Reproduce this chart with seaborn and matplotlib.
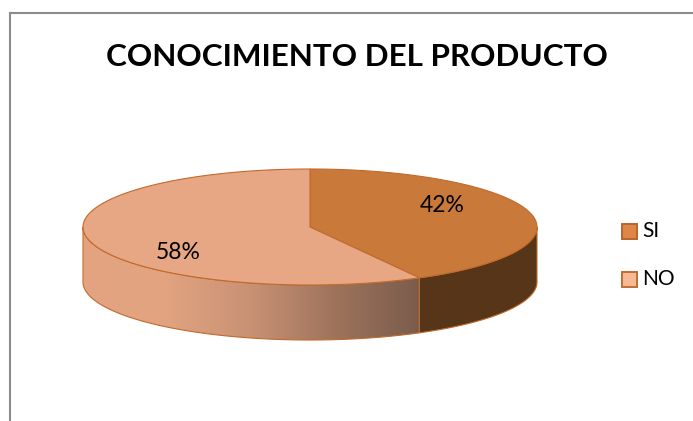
import numpy as np
import matplotlib
matplotlib.use("Agg")
import matplotlib.pyplot as plt
from matplotlib.patches import Polygon, Rectangle
import seaborn as sns

# ---- data -------------------------------------------------------------
categories = ["SI", "NO"]
shares = [42, 58]
value_labels = ["42%", "58%"]
title = "CONOCIMIENTO DEL PRODUCTO"

# ---- styling ----------------------------------------------------------
sns.set_theme(style="white")
plt.rcParams["font.family"] = ["Lato", "DejaVu Sans"]

top_colors = ["#C97939", "#E7A784"]
legend_colors = ["#DE8646", "#F7B894"]
legend_edges = ["#B5652C", "#C06C32"]
edge_color = "#C26A2C"
si_side = "#573519"
no_side_cmap = sns.blend_palette(["#E4A481", "#E1A380", "#C89174", "#9E735C", "#7A5C4C"],
                                 as_cmap=True)

W, H = 693, 421
fig = plt.figure(figsize=(W / 100, H / 100), dpi=100)
ax = fig.add_axes([0, 0, 1, 1])
ax.set_xlim(0, W)
ax.set_ylim(H, 0)
ax.axis("off")

# pie geometry (pixels): centre of top face, radii, thickness
cx, cy, rx, ry, depth = 310, 227, 227, 58, 55


def arc(t0, t1, dy=0.0, n=240):
    t = np.radians(np.linspace(t0, t1, n))
    return np.column_stack([cx + rx * np.cos(t), cy - ry * np.sin(t) + dy])


# slice angle ranges: start at 12 o'clock, run clockwise
fractions = np.array(shares, dtype=float) / np.sum(shares)
starts = 90 - 360 * np.concatenate([[0], np.cumsum(fractions)[:-1]])
ends = starts - 360 * fractions


def front_part(a_start, a_end):
    """Portion of a slice's outer rim that faces the viewer (angles -180..0)."""
    lo_s, hi_s = min(a_start, a_end), max(a_start, a_end)
    for k in (-720, -360, 0, 360):
        lo, hi = max(lo_s + k, -180), min(hi_s + k, 0)
        if hi > lo:
            return lo, hi
    return None


# ---- side walls -------------------------------------------------------
for i, cat in enumerate(categories):
    part = front_part(starts[i], ends[i])
    if part is None:
        continue
    lo, hi = part
    pts = np.vstack([arc(lo, hi), arc(hi, lo, dy=depth)])
    if cat == "SI":
        ax.add_patch(Polygon(pts, closed=True, facecolor=si_side,
                             edgecolor=edge_color, lw=0.8, zorder=2))
    else:
        poly = Polygon(pts, closed=True, facecolor="none",
                       edgecolor=edge_color, lw=0.8, zorder=3)
        ax.add_patch(poly)
        x0, x1 = pts[:, 0].min(), pts[:, 0].max()
        y0, y1 = pts[:, 1].min(), pts[:, 1].max()
        grad = np.linspace(0, 1, 256)[None, :]
        im = ax.imshow(grad, cmap=no_side_cmap, extent=[x0, x1, y1, y0],
                       aspect="auto", zorder=2, interpolation="bilinear")
        im.set_clip_path(poly)

# ---- top face ---------------------------------------------------------
for i, cat in enumerate(categories):
    pts = np.vstack([[cx, cy], arc(starts[i], ends[i])])
    ax.add_patch(Polygon(pts, closed=True, facecolor=top_colors[i],
                         edgecolor=edge_color, lw=0.8, zorder=4))

# restore axes limits after imshow
ax.set_xlim(0, W)
ax.set_ylim(H, 0)

# ---- value labels -----------------------------------------------------
for i, lab in enumerate(value_labels):
    mid = np.radians((starts[i] + ends[i]) / 2)
    lx = cx + 0.6 * rx * np.cos(mid)
    ly = cy + 2 - 94.5 * np.sin(mid)
    ax.text(lx, ly, lab, fontsize=16.5, color="black", ha="center",
            va="center", zorder=6)

# ---- legend -----------------------------------------------------------
for i, cat in enumerate(categories):
    y = 231 + 48 * i
    ax.add_patch(Rectangle((622, y - 7.5), 15, 15, facecolor=legend_colors[i],
                           edgecolor=legend_edges[i], lw=1.4, zorder=6))
    ax.text(642, y, cat, fontsize=15, color="black", ha="left",
            va="center", zorder=6)

# ---- title, fitted to the header width --------------------------------
t = ax.text(357, 57, title, fontsize=28, fontweight="bold", color="black",
            ha="center", va="center", zorder=6)
fig.canvas.draw()
bb = t.get_window_extent(fig.canvas.get_renderer())
t.set_fontsize(28 * 502 / bb.width)

# ---- chart frame ------------------------------------------------------
ax.plot([9.5, 9.5, W + 5], [H + 5, 12.5, 12.5], color="#8C8C8C", lw=1.5,
        solid_joinstyle="miter", zorder=7)

fig.savefig("out.png", dpi=100, facecolor="white")
